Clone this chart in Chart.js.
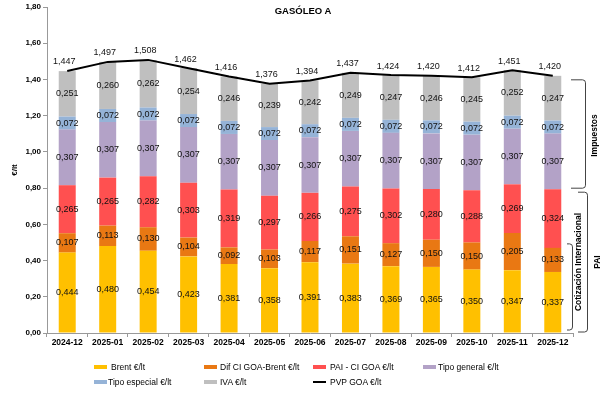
<!DOCTYPE html>
<html>
<head>
<meta charset="utf-8">
<style>
    body {
        margin: 0;
        background: #fff;
        font-family: 'Liberation Sans', Arial, sans-serif;
    }
    #wrap {
        position: relative;
        width: 614px;
        height: 399px;
    }
    .title {
        position: absolute;
        width: 614px;
        top: 5px;
        text-align: center;
        font-weight: bold;
        font-size: 9.5px;
        color: #000;
    }
    .leg {
        position: absolute;
        font-size: 8.5px;
        color: #000;
        white-space: nowrap;
        line-height: 10px;
    }
    .sw {
        position: absolute;
        width: 13px;
        height: 4px;
    }
</style>
</head>
<body>
<div id="wrap">
    <canvas id="chart" width="614" height="399"></canvas>
    <div class="title" style="left:-4px">GASÓLEO A</div>
    <!-- leyenda -->
    <div class="sw" style="left:94px;top:365px;background:#FFC000"></div>
    <div class="leg" style="left:111px;top:362px">Brent €/lt</div>
    <div class="sw" style="left:204px;top:365px;background:#E97813"></div>
    <div class="leg" style="left:220px;top:362px">Dif CI GOA-Brent €/lt</div>
    <div class="sw" style="left:313px;top:365px;background:#FF5050"></div>
    <div class="leg" style="left:330px;top:362px">PAI - CI GOA €/lt</div>
    <div class="sw" style="left:423px;top:365px;background:#B3A2C7"></div>
    <div class="leg" style="left:438px;top:362px">Tipo general €/lt</div>
    <div class="sw" style="left:94px;top:380px;background:#95B3D7"></div>
    <div class="leg" style="left:108px;top:377px">Tipo especial €/lt</div>
    <div class="sw" style="left:204px;top:380px;background:#BFBFBF"></div>
    <div class="leg" style="left:220px;top:377px">IVA €/lt</div>
    <div class="sw" style="left:313px;top:381px;height:2px;background:#000"></div>
    <div class="leg" style="left:330px;top:377px">PVP GOA €/lt</div>
</div>

<script src="https://cdn.jsdelivr.net/npm/chart.js"></script>
<script>
    // datos
    const months = ['2024-12', '2025-01', '2025-02', '2025-03', '2025-04', '2025-05', '2025-06',
                    '2025-07', '2025-08', '2025-09', '2025-10', '2025-11', '2025-12'];
    const brent = [0.444, 0.480, 0.454, 0.423, 0.381, 0.358, 0.391, 0.383, 0.369, 0.365, 0.350, 0.347, 0.337];
    const difCi = [0.107, 0.113, 0.130, 0.104, 0.092, 0.103, 0.117, 0.151, 0.127, 0.150, 0.150, 0.205, 0.133];
    const paiCi = [0.265, 0.265, 0.282, 0.303, 0.319, 0.297, 0.266, 0.275, 0.302, 0.280, 0.288, 0.269, 0.324];
    const tipoGeneral = [0.307, 0.307, 0.307, 0.307, 0.307, 0.307, 0.307, 0.307, 0.307, 0.307, 0.307, 0.307, 0.307];
    const tipoEspecial = [0.072, 0.072, 0.072, 0.072, 0.072, 0.072, 0.072, 0.072, 0.072, 0.072, 0.072, 0.072, 0.072];
    const iva = [0.251, 0.260, 0.262, 0.254, 0.246, 0.239, 0.242, 0.249, 0.247, 0.246, 0.245, 0.252, 0.247];
    const pvp = [1.447, 1.497, 1.508, 1.462, 1.416, 1.376, 1.394, 1.437, 1.424, 1.420, 1.412, 1.451, 1.420];
    const yTicks = [0, 0.2, 0.4, 0.6, 0.8, 1.0, 1.2, 1.4, 1.6, 1.8];

    const FONT = "'Liberation Sans', Arial, sans-serif";
    const fmt = (v, d) => v.toFixed(d).replace('.', ',');

    function bar(label, data, color) {
        return { type: 'bar', label: label, data: data, backgroundColor: color, stack: 'precio', order: 1,
                 barPercentage: 0.42, categoryPercentage: 1 };
    }

    // etiquetas de valor dentro de cada segmento y encima de la linea
    const valueLabels = {
        id: 'valueLabels',
        afterDatasetsDraw(chart) {
            const ctx = chart.ctx;
            ctx.save();
            ctx.fillStyle = '#111';
            ctx.textAlign = 'center';
            ctx.textBaseline = 'middle';
            ctx.font = '9px ' + FONT;
            chart.data.datasets.forEach((ds, i) => {
                const meta = chart.getDatasetMeta(i);
                meta.data.forEach((el, j) => {
                    const v = ds.data[j];
                    if (ds.type === 'bar') {
                        ctx.fillText(fmt(v, 3), el.x, (el.y + el.base) / 2);
                    } else {
                        ctx.fillText(fmt(v, 3), el.x - 3, el.y - 9);
                    }
                });
            });
            ctx.restore();
        }
    };

    function bracket(ctx, xOpen, xLine, yTop, yBot) {
        const r = 3;
        ctx.beginPath();
        ctx.moveTo(xOpen, yTop);
        ctx.lineTo(xLine - r, yTop);
        ctx.quadraticCurveTo(xLine, yTop, xLine, yTop + r);
        ctx.lineTo(xLine, yBot - r);
        ctx.quadraticCurveTo(xLine, yBot, xLine - r, yBot);
        ctx.lineTo(xOpen, yBot);
        ctx.stroke();
    }

    function vText(ctx, txt, x, y) {
        ctx.save();
        ctx.translate(x, y);
        ctx.rotate(-Math.PI / 2);
        ctx.fillText(txt, 0, 0);
        ctx.restore();
    }

    // llaves de la derecha (Impuestos / PAI / Cotizacion Internacional)
    const brackets = {
        id: 'brackets',
        afterDraw(chart) {
            const ctx = chart.ctx;
            const y = chart.scales.y;
            const n = months.length - 1;
            const ci = brent[n] + difCi[n];
            const pai = ci + paiCi[n];
            const total = pai + tipoGeneral[n] + tipoEspecial[n] + iva[n];
            ctx.save();
            ctx.strokeStyle = '#444';
            ctx.lineWidth = 1;
            bracket(ctx, 571, 585.5, y.getPixelForValue(total) + 4, y.getPixelForValue(pai) - 1);
            bracket(ctx, 578, 587.5, y.getPixelForValue(pai) + 3, y.getPixelForValue(0) - 1);
            bracket(ctx, 567, 572.5, y.getPixelForValue(ci) - 4, y.getPixelForValue(0) - 3);
            ctx.fillStyle = '#000';
            ctx.font = 'bold 8.5px ' + FONT;
            ctx.textAlign = 'center';
            ctx.textBaseline = 'middle';
            vText(ctx, 'Impuestos', 595, (y.getPixelForValue(total) + y.getPixelForValue(pai)) / 2 + 3);
            vText(ctx, 'PAI', 598, (y.getPixelForValue(pai) + y.getPixelForValue(0)) / 2 + 1);
            vText(ctx, 'Cotización Internacional', 579, 262);
            ctx.restore();
        }
    };

    new Chart(document.getElementById('chart'), {
        data: {
            labels: months,
            datasets: [
                { type: 'line', label: 'PVP GOA €/lt', data: pvp, borderColor: '#000', borderWidth: 2,
                  pointRadius: 0, tension: 0, stack: 'pvp', order: 0, fill: false },
                bar('Brent €/lt', brent, '#FFC000'),
                bar('Dif CI GOA-Brent €/lt', difCi, '#E97813'),
                bar('PAI - CI GOA €/lt', paiCi, '#FF5050'),
                bar('Tipo general €/lt', tipoGeneral, '#B3A2C7'),
                bar('Tipo especial €/lt', tipoEspecial, '#95B3D7'),
                bar('IVA €/lt', iva, '#BFBFBF')
            ]
        },
        options: {
            responsive: false,
            animation: false,
            devicePixelRatio: 1,
            layout: { padding: { top: 7, right: 41, left: 0, bottom: 0 } },
            plugins: {
                legend: { display: false },
                tooltip: { enabled: false }
            },
            scales: {
                x: {
                    stacked: true,
                    grid: { display: true, drawOnChartArea: false, tickLength: 4, color: '#999', offset: true },
                    border: { color: '#999' },
                    ticks: { color: '#000', font: { family: FONT, size: 8.5, weight: 'bold' }, padding: 1, maxRotation: 0 },
                    afterFit: s => { s.height = 66; }
                },
                y: {
                    stacked: true,
                    min: 0,
                    max: 1.8,
                    afterBuildTicks: s => { s.ticks = yTicks.map(v => ({ value: v })); },
                    grid: { display: true, drawOnChartArea: false, tickLength: 4, color: '#999' },
                    border: { color: '#999' },
                    ticks: { color: '#000', font: { family: FONT, size: 8, weight: 'bold' }, padding: 2,
                             callback: v => fmt(v, 2) },
                    title: { display: true, text: '€/lt', color: '#000', padding: { top: 10, bottom: 0 },
                             font: { family: FONT, size: 8, weight: 'bold' } },
                    afterFit: s => { s.width = 47; }
                }
            }
        },
        plugins: [valueLabels, brackets]
    });
</script>
</body>
</html>
